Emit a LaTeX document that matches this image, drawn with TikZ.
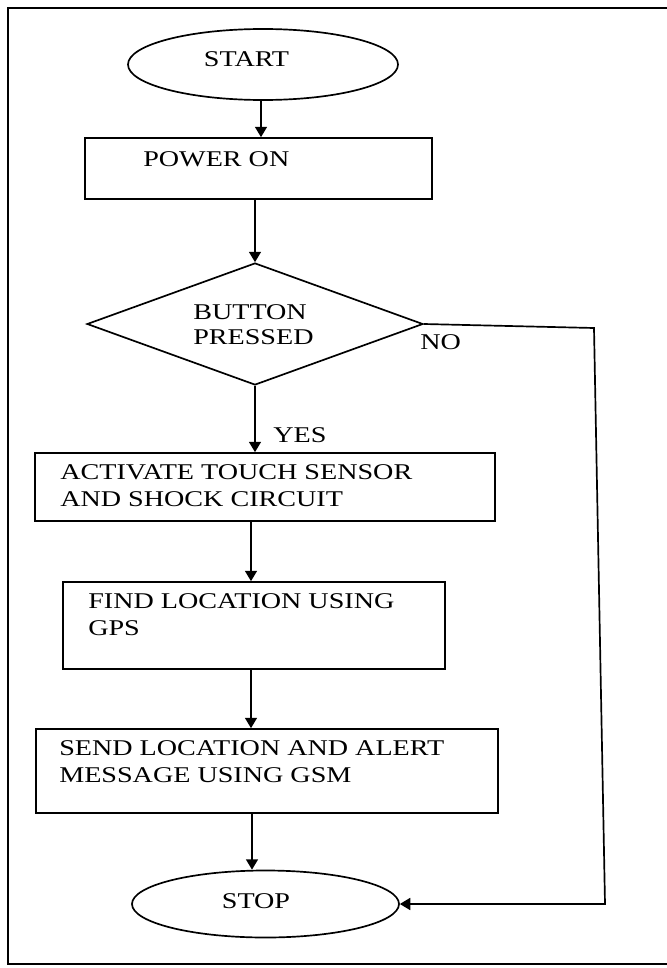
\documentclass[tikz,border=0pt]{standalone}
\usepackage{fontspec}
\setmainfont{Liberation Serif}[FakeStretch=1.25]
\usetikzlibrary{shapes.geometric,arrows.meta}

\tikzset{
	flowline/.style={line width=1.2pt},
	flowbox/.style={draw, flowline, rectangle, inner sep=0pt},
	terminal/.style={draw, flowline, ellipse, inner sep=0pt},
	decision/.style={draw, flowline, diamond, inner sep=0pt, aspect=1},
	flowtext/.style={inner sep=0pt, align=left, font=\fontsize{16}{19.2}\selectfont},
	flowarrow/.style={flowline, -{Triangle[length=2.6mm,width=3mm]}}
}

\begin{document}
\begin{tikzpicture}[x=0.25mm, y=-0.25mm]
			\useasboundingbox (0, 0) rectangle (666, 968);
			\draw [flowline] (668, 8) -- (8, 8) -- (8, 964) -- (668, 964);

			\node [terminal, minimum width=67.5mm, minimum height=17.75mm] (start) at (263, 64.5) {};
			\node [flowbox, minimum width=86.75mm, minimum height=15.25mm] (power) at (258.5, 168.5) {};
			\node [decision, minimum width=84mm, minimum height=30.5mm] (dec) at (255, 324) {};
			\node [flowbox, minimum width=115mm, minimum height=17mm] (act) at (265, 487) {};
			\node [flowbox, minimum width=95.5mm, minimum height=21.75mm] (find) at (254, 625.5) {};
			\node [flowbox, minimum width=115.5mm, minimum height=21mm] (send) at (267, 771) {};
			\node [terminal, minimum width=66.75mm, minimum height=16.75mm] (stop) at (265.5, 904) {};

			\node [flowtext] (startt) at (246.5, 59) {START};
			\node [flowtext, anchor=west] (powert) at (143, 159.5) {POWER ON};
			\node [flowtext, anchor=west] (dect) at (193, 324.5) {BUTTON\\[-1.4pt]PRESSED};
			\node [flowtext, anchor=west] (actt) at (60, 486) {ACTIVATE TOUCH SENSOR\\AND SHOCK CIRCUIT};
			\node [flowtext, anchor=west] (findt) at (88, 615) {FIND LOCATION USING\\GPS};
			\node [flowtext, anchor=west] (sendt) at (59, 761.5) {SEND LOCATION AND ALERT\\MESSAGE USING GSM};
			\node [flowtext] (stopt) at (256, 901) {STOP};
			\node [flowtext, anchor=west] (no) at (420, 342.5) {NO};
			\node [flowtext, anchor=west] (yes) at (273, 435.5) {YES};

			\coordinate (nocorner) at (594, 328);
			\coordinate (stopcorner) at (605, 904);

			\draw [flowarrow] (start.south -| 261, 0) -- (power.north -| 261, 0);
			\draw [flowarrow] (power.south -| dec.north) -- (dec.north);
			\draw [flowarrow] (dec.south) -- (dec.south |- act.north);
			\draw [flowarrow] (act.south -| 251, 0) -- (find.north -| 251, 0);
			\draw [flowarrow] (find.south -| 251, 0) -- (send.north -| 251, 0);
			\draw [flowarrow] (send.south -| 252, 0) -- (stop.north -| 252, 0);
			\draw [flowarrow] (dec.east) -- (nocorner) -- (stopcorner) -- (stop.east);
		\end{tikzpicture}
\end{document}
